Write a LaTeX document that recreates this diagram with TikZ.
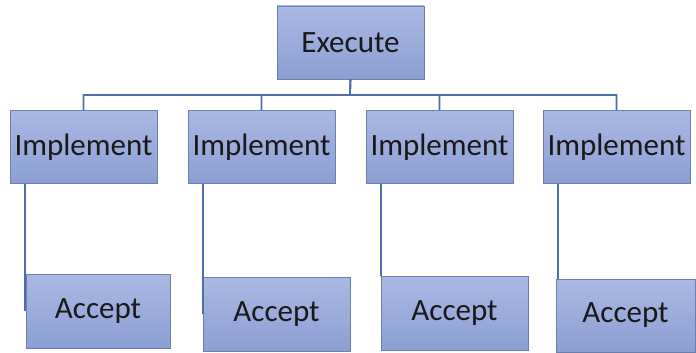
\documentclass[tikz,border=0pt]{standalone}
\usepackage{fontspec}
\setmainfont{Carlito}
\definecolor{boxtop}{HTML}{AAB9E3}
\definecolor{boxbot}{HTML}{8B9FD3}
\definecolor{boxline}{HTML}{6D80AD}
\definecolor{wire}{HTML}{4E6DAA}
\begin{document}
\begin{tikzpicture}[x=1pt,y=-1pt,
  task/.style={draw=boxline,top color=boxtop,bottom color=boxbot,minimum width=147pt,minimum height=73pt,inner sep=0pt,font=\fontsize{31}{36}\selectfont,text=black!90},
  link/.style={draw=wire,line width=1.6pt}
]
  \useasboundingbox (0,0) rectangle (696,353);
  \node[task] (exec) at (350.5,42.5) {Execute};
  \node[task] (impA) at (83.5,147) {Implement};
  \node[task] (impB) at (261.5,147) {Implement};
  \node[task] (impC) at (439.5,147) {Implement};
  \node[task] (impD) at (616.5,147) {Implement};

  \node[task,minimum width=144pt,minimum height=74pt] (accA) at (98,311) {Accept};
  \node[task,minimum height=74pt] (accB) at (276.5,314) {Accept};
  \node[task,minimum height=74pt] (accC) at (454.5,313.5) {Accept};
  \node[task,minimum width=139pt] (accD) at (625.5,315.5) {Accept};

  \coordinate (bus) at (350,95);
  \foreach \i in {A,B,C,D}
    \draw[link] (exec.south) -- (bus) -| (imp\i.north);
  \foreach \i/\e in {A/center,B/center,C/north,D/north} {
    \coordinate (drop\i) at ([xshift=15pt]imp\i.south west);
    \draw[link] (drop\i) -- (drop\i |- acc\i.\e);
  }
\end{tikzpicture}
\end{document}
